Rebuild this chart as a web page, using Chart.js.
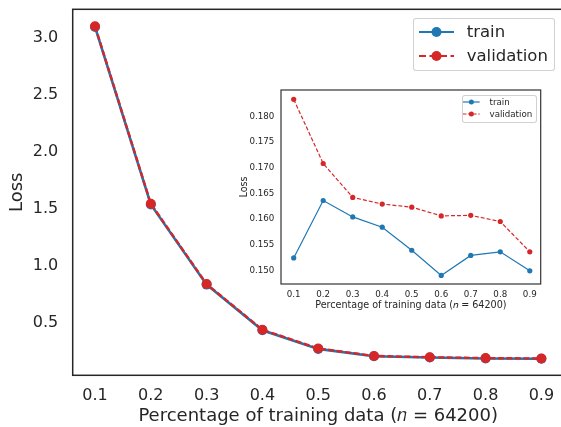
<!DOCTYPE html>
<html>
<head>
<meta charset="utf-8">
<script src="https://cdn.jsdelivr.net/npm/chart.js@4"></script>
<style>
  html, body { margin: 0; padding: 0; background: #fff; }
  #clip { position: absolute; left: 0; top: 0; width: 561px; height: 427px; overflow: hidden; }
  #main { position: absolute; left: 0; top: 0; }
  #inset { position: absolute; left: 236px; top: 85px; }
  .legend { position: absolute; box-sizing: border-box; border: 1px solid rgba(204,204,204,0.9); border-radius: 3px; background: rgba(255,255,255,0.85); font-family: "DejaVu Sans", sans-serif; color: #262626; }
  .legend .row { position: absolute; white-space: nowrap; }
  .legend svg { position: absolute; overflow: visible; }
</style>
</head>
<body>
<div id="clip">
<canvas id="main" width="566" height="427" style="width:566px;height:427px"></canvas>
<canvas id="inset" width="310" height="230" style="width:310px;height:230px"></canvas>
</div>
<script>
// ---- data ----
const xValues = [0.1, 0.2, 0.3, 0.4, 0.5, 0.6, 0.7, 0.8, 0.9];
const seriesNames = ['train', 'validation'];
const mainTrain = [3.100, 1.540, 0.835, 0.434, 0.270, 0.205, 0.194, 0.186, 0.183];
const mainValidation = [3.106, 1.546, 0.840, 0.438, 0.274, 0.208, 0.197, 0.189, 0.186];
const insetTrain = [0.1524, 0.1636, 0.1604, 0.1584, 0.1539, 0.1490, 0.1529, 0.1536, 0.1499];
const insetValidation = [0.1833, 0.1708, 0.1642, 0.1629, 0.1623, 0.1606, 0.1607, 0.1595, 0.1536];
const mainYTicks = [0.5, 1.0, 1.5, 2.0, 2.5, 3.0];
const insetYTicks = [0.150, 0.155, 0.160, 0.165, 0.170, 0.175, 0.180];
const xTitle = 'Percentage of training data (𝑛 = 64200)';
const yTitle = 'Loss';

const BLUE = '#1f77b4', RED = '#d62728', TEXT = '#262626';
const FONT = '"DejaVu Sans", sans-serif';

const pts = ys => xValues.map((x, i) => ({ x: x, y: ys[i] }));

function framePlugin(color, width) {
  return {
    id: 'frame',
    beforeDatasetsDraw(chart) {
      const a = chart.chartArea, c = chart.ctx;
      c.save(); c.fillStyle = '#fff';
      c.fillRect(a.left, a.top, a.right - a.left, a.bottom - a.top);
      c.restore();
    },
    afterDraw(chart) {
      const a = chart.chartArea, c = chart.ctx;
      c.save(); c.strokeStyle = color; c.lineWidth = width;
      c.strokeRect(a.left, a.top, a.right - a.left, a.bottom - a.top);
      c.restore();
    }
  };
}

function zeroPad(s) { s.paddingTop = 0; s.paddingBottom = 0; s.paddingLeft = 0; s.paddingRight = 0; }

function makeChart(id, cfg) {
  return new Chart(document.getElementById(id), {
    type: 'line',
    data: {
      datasets: [
        { label: seriesNames[0], data: pts(cfg.train), borderColor: BLUE, backgroundColor: BLUE,
          pointBackgroundColor: BLUE, pointBorderColor: BLUE, borderWidth: cfg.lw, pointRadius: cfg.pr,
          pointBorderWidth: 0, tension: 0, order: 1 },
        { label: seriesNames[1], data: pts(cfg.val), borderColor: RED, backgroundColor: RED,
          pointBackgroundColor: RED, pointBorderColor: RED, borderWidth: cfg.lw2, pointRadius: cfg.pr,
          pointBorderWidth: 0, borderDash: cfg.dash, tension: 0, order: 0 }
      ]
    },
    options: {
      responsive: false, animation: false, devicePixelRatio: 1,
      layout: { padding: cfg.pad, autoPadding: false },
      plugins: { legend: { display: false }, tooltip: { enabled: false } },
      scales: {
        x: {
          type: 'linear', min: cfg.xmin, max: cfg.xmax,
          grid: { display: false, drawTicks: false }, border: { display: false },
          afterBuildTicks: s => { s.ticks = xValues.map(v => ({ value: v })); },
          afterFit: s => { s.height = cfg.xh; zeroPad(s); },
          ticks: { color: TEXT, font: { family: FONT, size: cfg.tickSize }, padding: cfg.xtp,
                   maxRotation: 0, autoSkip: false, callback: v => v.toFixed(1) },
          title: { display: true, text: xTitle, color: TEXT, font: { family: FONT, size: cfg.titleSize },
                   padding: { top: 0, bottom: cfg.xtitlePad } }
        },
        y: {
          type: 'linear', min: cfg.ymin, max: cfg.ymax,
          grid: { display: false, drawTicks: false }, border: { display: false },
          afterBuildTicks: s => { s.ticks = cfg.yTicks.map(v => ({ value: v })); },
          afterFit: s => { s.width = cfg.yw; zeroPad(s); },
          ticks: { color: TEXT, font: { family: FONT, size: cfg.tickSize }, padding: cfg.ytp,
                   autoSkip: false, callback: v => v.toFixed(cfg.ydec) },
          title: { display: true, text: yTitle, color: TEXT, font: { family: FONT, size: cfg.titleSize },
                   padding: { top: cfg.ytitlePad, bottom: 0 } }
        }
      }
    },
    plugins: [framePlugin(cfg.frameColor, cfg.frameWidth)]
  });
}

const mainChart = makeChart('main', {
  train: mainTrain, val: mainValidation, lw: 2.6, lw2: 2.4, pr: 5, dash: [6, 2.5],
  pad: { left: 0, top: 9.3, right: 2.3, bottom: 0 },
  xmin: 0.06, xmax: 0.94, ymin: 0.038, ymax: 3.255,
  xh: 51.7, yw: 72.7, xtp: 11, ytp: 14.4, tickSize: 16, titleSize: 18,
  xtitlePad: 0, ytitlePad: 7, yTicks: mainYTicks, ydec: 1,
  frameColor: '#262626', frameWidth: 1.5
});

const insetChart = makeChart('inset', {
  train: insetTrain, val: insetValidation, lw: 1.2, lw2: 1.2, pr: 2.6, dash: [4, 2],
  pad: { left: 0, top: 5, right: 5.3, bottom: 0 },
  xmin: 0.057, xmax: 0.937, ymin: 0.14733, ymax: 0.18512,
  xh: 31, yw: 45, xtp: 5.9, ytp: 6.7, tickSize: 8.7, titleSize: 9.6,
  xtitlePad: 3.5, ytitlePad: 2.3, yTicks: insetYTicks, ydec: 3,
  frameColor: '#333333', frameWidth: 1.2
});

// ---- legends built from the chart datasets ----
function buildLegend(chart, L) {
  const box = document.createElement('div');
  box.className = 'legend';
  Object.assign(box.style, { left: L.left + 'px', top: L.top + 'px', width: L.width + 'px', height: L.height + 'px' });
  chart.data.datasets.forEach((ds, i) => {
    const cy = L.rows[i] - L.top - 1;
    const ns = 'http://www.w3.org/2000/svg';
    const svg = document.createElementNS(ns, 'svg');
    svg.setAttribute('width', L.lineLen); svg.setAttribute('height', 12);
    svg.style.left = (L.lineX - L.left - 1) + 'px';
    svg.style.top = (cy - 6) + 'px';
    const line = document.createElementNS(ns, 'line');
    line.setAttribute('x1', 0); line.setAttribute('x2', L.lineLen);
    line.setAttribute('y1', 6); line.setAttribute('y2', 6);
    line.setAttribute('stroke', ds.borderColor); line.setAttribute('stroke-width', L.lw);
    if (ds.borderDash) line.setAttribute('stroke-dasharray', L.dash);
    const dot = document.createElementNS(ns, 'circle');
    dot.setAttribute('cx', L.lineLen / 2); dot.setAttribute('cy', 6); dot.setAttribute('r', L.r);
    dot.setAttribute('fill', ds.borderColor);
    svg.appendChild(line); svg.appendChild(dot);
    box.appendChild(svg);
    const t = document.createElement('div');
    t.className = 'row';
    t.textContent = ds.label;
    Object.assign(t.style, { left: (L.textX - L.left - 1) + 'px', top: (cy - L.fontSize * 0.6) + 'px',
                             fontSize: L.fontSize + 'px', lineHeight: (L.fontSize * 1.2) + 'px' });
    box.appendChild(t);
  });
  document.getElementById('clip').appendChild(box);
}

buildLegend(mainChart, { left: 413.3, top: 17.7, width: 142, height: 53.3, rows: [31.7, 56],
  lineX: 419.3, lineLen: 35, textX: 466.7, lw: 2.2, r: 5, dash: '7 3.5', fontSize: 16.5 });
buildLegend(insetChart, { left: 461.7, top: 95.3, width: 75.6, height: 27.4, rows: [102, 114],
  lineX: 463.3, lineLen: 16.7, textX: 489.5, lw: 1.2, r: 2.5, dash: '3.5 1.6', fontSize: 8.7 });
</script>
</body>
</html>
